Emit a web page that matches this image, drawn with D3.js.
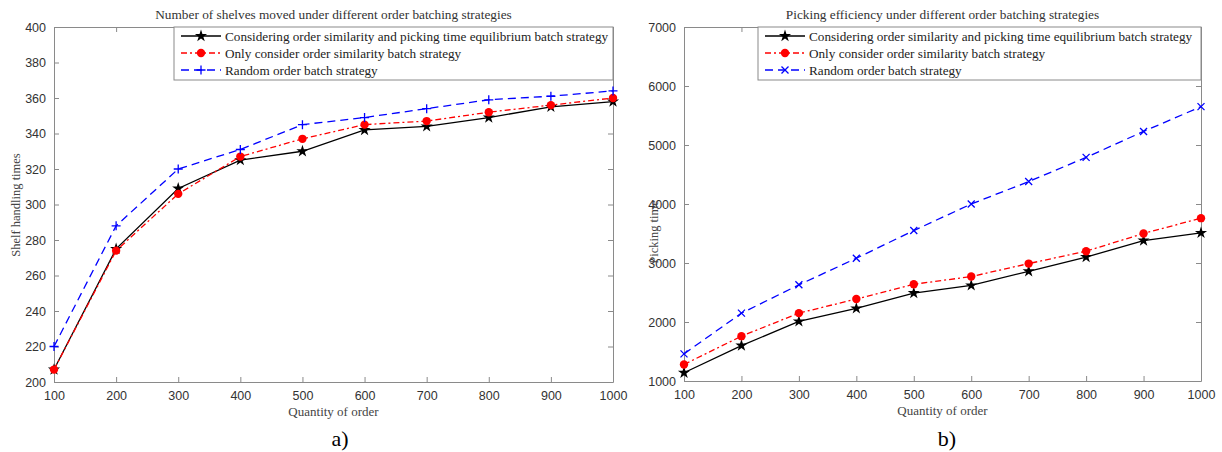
<!DOCTYPE html>
<html>
<head>
<meta charset="utf-8">
<script src="https://cdn.jsdelivr.net/npm/d3@7"></script>
<style>
  body { margin: 0; background: #fff; }
  svg { display: block; }
  .tick text { font-family: "Liberation Sans", Arial, sans-serif; font-size: 12.5px; fill: #333; }
  .tick line, .domain { stroke: #8a8a8a; }
  .serif { font-family: "Liberation Serif", "Times New Roman", serif; }
</style>
</head>
<body>
<svg id="chart" width="1222" height="452"></svg>
<script>
// order quantities on the x axis
const orderQty = [100, 200, 300, 400, 500, 600, 700, 800, 900, 1000];

const seriesNames = [
  'Considering order similarity and picking time equilibrium batch strategy',
  'Only consider order similarity batch strategy',
  'Random order batch strategy'
];

// panel a) shelf handling times
const shelfBalanced = [207, 275, 309, 325, 330, 342, 344, 349, 355, 358];
const shelfSimilarity = [207, 274, 306, 327, 337, 345, 347, 352, 356, 360];
const shelfRandom = [220, 288, 320, 331, 345, 349, 354, 359, 361, 364];
const shelfTicks = [200, 220, 240, 260, 280, 300, 320, 340, 360, 380, 400];

// panel b) picking time
const pickBalanced = [1140, 1600, 2010, 2230, 2490, 2620, 2860, 3100, 3380, 3510];
const pickSimilarity = [1280, 1760, 2150, 2390, 2640, 2770, 2990, 3200, 3500, 3760];
const pickRandom = [1460, 2150, 2630, 3080, 3550, 4000, 4380, 4790, 5230, 5650];
const pickTicks = [1000, 2000, 3000, 4000, 5000, 6000, 7000];

const svg = d3.select('#chart');

const styles = [
  { color: '#000', dash: null, marker: 'star' },
  { color: '#ff0000', dash: '6,3,2,3', marker: 'circle' },
  { color: '#0000ff', dash: '8,5', marker: 'plus' }
];

function drawMarker(g, type, color) {
  if (type === 'star') {
    g.append('path').attr('d', d3.symbol(d3.symbolStar, 46)()).attr('fill', color);
  } else if (type === 'circle') {
    g.append('circle').attr('r', 4.2).attr('fill', color);
  } else if (type === 'plus') {
    g.append('path').attr('d', 'M-4.5,0H4.5M0,-4.5V4.5').attr('stroke', color).attr('stroke-width', 1.3);
  } else {
    g.append('path').attr('d', 'M-3.5,-3.5L3.5,3.5M-3.5,3.5L3.5,-3.5').attr('stroke', color).attr('stroke-width', 1.3);
  }
}

function drawPanel(opt) {
  const { left, right, top, bottom } = opt;
  const x = d3.scaleLinear().domain([100, 1000]).range([left, right]);
  const y = d3.scaleLinear().domain(opt.yDomain).range([bottom, top]);
  const g = svg.append('g');

  // axes with inward ticks (box on)
  g.append('g').attr('transform', `translate(0,${bottom})`)
    .call(d3.axisBottom(x).tickValues(orderQty).tickSizeInner(-5).tickSizeOuter(0).tickPadding(9).tickFormat(d3.format('d')));
  g.append('g').attr('transform', `translate(0,${top})`)
    .call(d3.axisTop(x).tickValues(orderQty).tickSizeInner(-5).tickSizeOuter(0).tickFormat(''));
  g.append('g').attr('transform', `translate(${left},0)`)
    .call(d3.axisLeft(y).tickValues(opt.yTicks).tickSizeInner(-5).tickSizeOuter(0).tickPadding(8).tickFormat(d3.format('d')));
  g.append('g').attr('transform', `translate(${right},0)`)
    .call(d3.axisRight(y).tickValues(opt.yTicks).tickSizeInner(-5).tickSizeOuter(0).tickFormat(''));

  // y label sits under the tick labels, as in the original
  g.append('text').attr('class', 'serif')
    .attr('transform', `translate(${opt.yLabelX},${opt.yLabelY}) rotate(-90)`)
    .attr('text-anchor', 'middle').attr('font-size', 12.5).attr('fill', '#444')
    .text(opt.yLabel);
  g.selectAll('.tick text').each(function () { this.parentNode.parentNode.appendChild(this.parentNode); });

  g.append('text').attr('class', 'serif')
    .attr('x', (left + right) / 2).attr('y', top - 8)
    .attr('text-anchor', 'middle').attr('font-size', 13.3).attr('fill', '#333')
    .text(opt.title);

  g.append('text').attr('class', 'serif')
    .attr('x', (left + right) / 2).attr('y', bottom + 34)
    .attr('text-anchor', 'middle').attr('font-size', 13).attr('fill', '#444')
    .text('Quantity of order');

  g.append('text').attr('class', 'serif')
    .attr('x', opt.tagX).attr('y', 446)
    .attr('text-anchor', 'middle').attr('font-size', 22).attr('fill', '#000')
    .text(opt.tag);

  const line = d3.line().x((d, i) => x(orderQty[i])).y(d => y(d));

  opt.series.forEach((vals, k) => {
    const st = styles[k];
    const marker = k === 2 ? opt.randomMarker : st.marker;
    g.append('path').datum(vals)
      .attr('d', line).attr('fill', 'none')
      .attr('stroke', st.color).attr('stroke-width', 1.3)
      .attr('stroke-dasharray', st.dash);
    vals.forEach((v, i) => {
      drawMarker(g.append('g').attr('transform', `translate(${x(orderQty[i])},${y(v)})`), marker, st.color);
    });
  });

  // legend
  const lg = g.append('g');
  lg.append('rect')
    .attr('x', opt.legendX).attr('y', top).attr('width', right - opt.legendX).attr('height', 53)
    .attr('fill', '#fff').attr('stroke', '#8a8a8a').attr('stroke-width', 1);
  seriesNames.forEach((name, k) => {
    const st = styles[k];
    const marker = k === 2 ? opt.randomMarker : st.marker;
    const ry = top + 9 + k * 17;
    const x0 = opt.legendX + 7;
    lg.append('line').attr('x1', x0).attr('x2', x0 + opt.legendLine).attr('y1', ry).attr('y2', ry)
      .attr('stroke', st.color).attr('stroke-width', 1.3).attr('stroke-dasharray', st.dash);
    drawMarker(lg.append('g').attr('transform', `translate(${x0 + opt.legendLine / 2},${ry})`), marker, st.color);
    lg.append('text').attr('class', 'serif')
      .attr('x', x0 + opt.legendLine + 4).attr('y', ry + 4.5)
      .attr('font-size', 13.2).attr('fill', '#222')
      .text(name);
  });
}

drawPanel({
  left: 54, right: 613, top: 27, bottom: 382,
  yDomain: [200, 400], yTicks: shelfTicks,
  series: [shelfBalanced, shelfSimilarity, shelfRandom],
  randomMarker: 'plus',
  title: 'Number of shelves moved under different order batching strategies',
  yLabel: 'Shelf handling times', yLabelX: 20, yLabelY: 205,
  tag: 'a)', tagX: 340,
  legendX: 174, legendLine: 40
});

drawPanel({
  left: 684, right: 1201, top: 27, bottom: 381,
  yDomain: [1000, 7000], yTicks: pickTicks,
  series: [pickBalanced, pickSimilarity, pickRandom],
  randomMarker: 'x',
  title: 'Picking efficiency under different order batching strategies',
  yLabel: 'Picking time', yLabelX: 658, yLabelY: 232,
  tag: 'b)', tagX: 947,
  legendX: 758, legendLine: 40
});
</script>
</body>
</html>
